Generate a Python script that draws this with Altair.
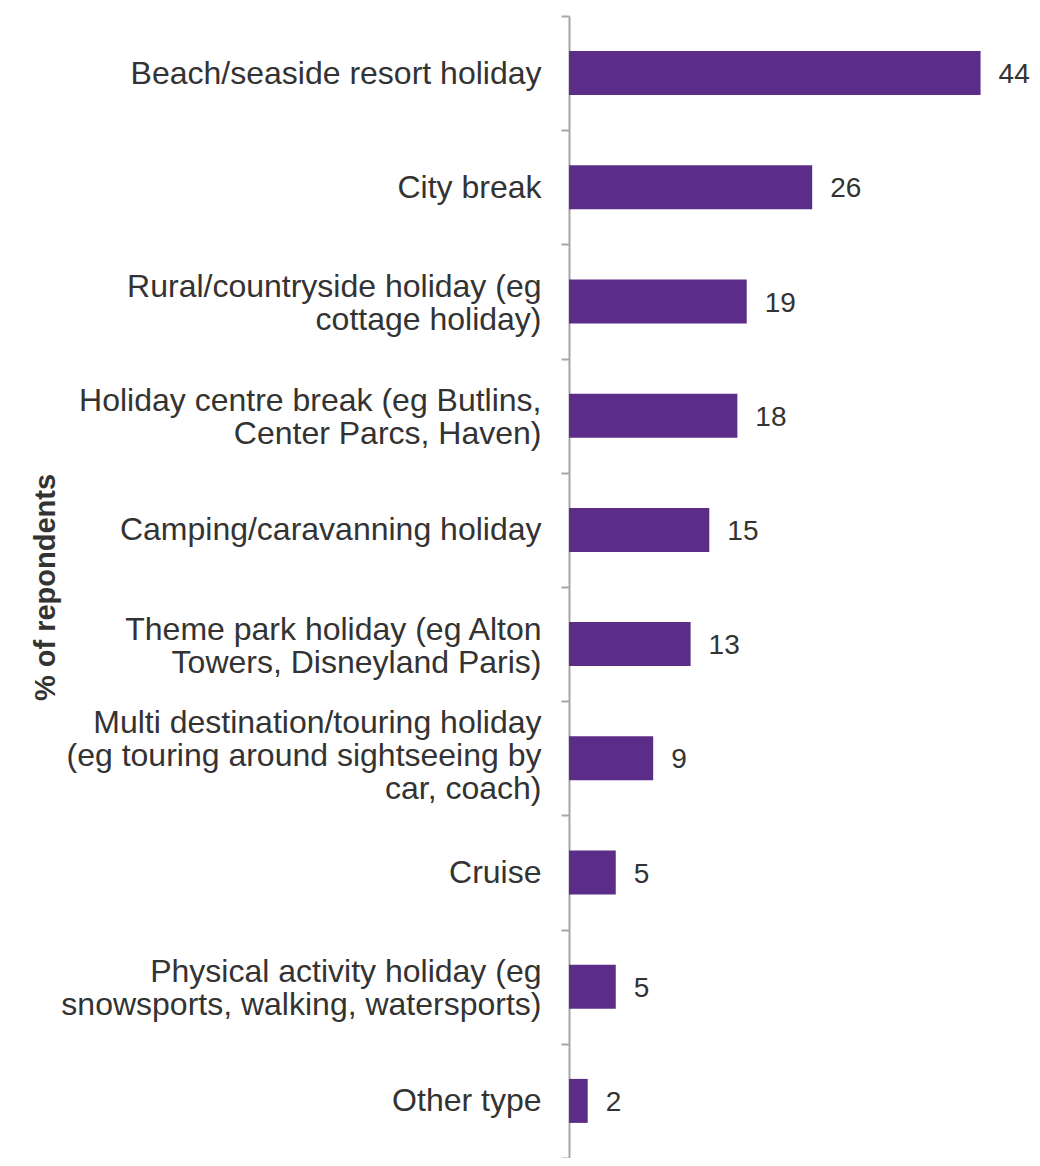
import altair as alt
import pandas as pd

categories = [
    "Beach/seaside resort holiday",
    "City break",
    "Rural/countryside holiday (eg|cottage holiday)",
    "Holiday centre break (eg Butlins,|Center Parcs, Haven)",
    "Camping/caravanning holiday",
    "Theme park holiday (eg Alton|Towers, Disneyland Paris)",
    "Multi destination/touring holiday|(eg touring around sightseeing by|car, coach)",
    "Cruise",
    "Physical activity holiday (eg|snowsports, walking, watersports)",
    "Other type",
]
values = [44, 26, 19, 18, 15, 13, 9, 5, 5, 2]

df = pd.DataFrame({"category": categories, "value": values})

FONT = "Liberation Sans"
GREY = "#a6a6a6"
TXT = "#333333"

base = alt.Chart(df).encode(
    y=alt.Y(
        "category:N",
        sort=categories,
        scale=alt.Scale(paddingInner=0, paddingOuter=0),
        axis=alt.Axis(
            title="% of repondents",
            labelExpr="split(datum.label, '|')",
            labelFont=FONT,
            labelFontSize=32,
            labelColor=TXT,
            labelLineHeight=33,
            labelAlign="right",
            labelBaseline="middle",
            labelPadding=20,
            labelLimit=0,
            labelOverlap=False,
            labelOffset={
                "condition": [
                    {"test": "length(split(datum.label, '|')) == 3", "value": -36},
                    {"test": "length(split(datum.label, '|')) == 2", "value": -15},
                ],
                "value": 0,
            },
            domainColor=GREY,
            domainWidth=2,
            tickColor=GREY,
            tickWidth=2,
            tickSize=8,
            tickBand="extent",
            grid=False,
            titleFont=FONT,
            titleFontSize=29,
            titleFontWeight="bold",
            titleColor=TXT,
            titleAngle=270,
            titleX=-524,
            titleY=571,
            titleAlign="center",
            titleBaseline="middle",
        ),
    ),
    x=alt.X("value:Q", scale=alt.Scale(domain=[0, 49.5], nice=False), axis=None),
)

bars = base.mark_bar(color="#5C2D88", size=44)
text = base.mark_text(
    align="left", baseline="middle", dx=18, dy=2, fontSize=28, color=TXT, font=FONT
).encode(text="value:Q")

chart = (
    (bars + text)
    .properties(
        width=463,
        height=1142,
        padding={"left": 561, "top": 8, "right": 0, "bottom": 0},
        autosize=alt.AutoSizeParams(type="none"),
    )
    .configure_view(stroke=None)
)

chart.save("out.html", embed_options={"renderer": "svg", "actions": False})
